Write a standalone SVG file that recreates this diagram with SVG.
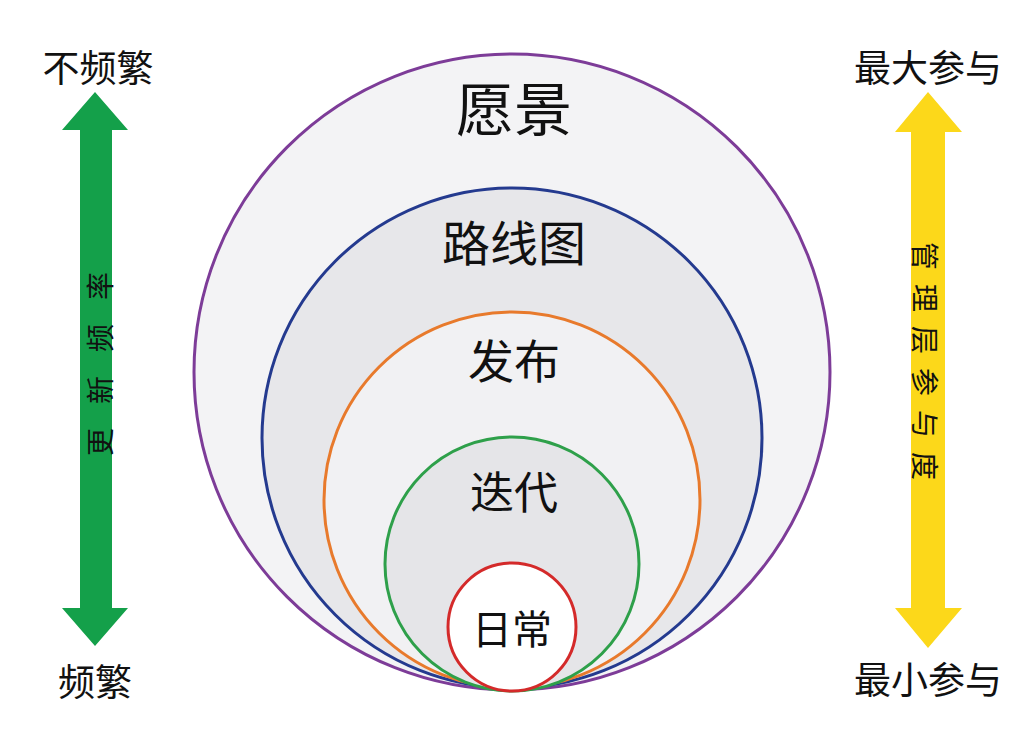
<svg xmlns="http://www.w3.org/2000/svg" width="1024" height="734" viewBox="0 0 1024 734">
<style>
text{font-family:"Noto Sans CJK SC","Noto Sans",sans-serif;fill:#111;text-anchor:middle;dominant-baseline:central}
.c{stroke-width:3}
.k{font-size:37px}
</style>
<rect width="1024" height="734" fill="#fff"/>
<g id="vision"><circle class="c" cx="512" cy="372" r="318" fill="#f3f3f5" stroke="#7d3c98"/><text x="514" y="106" font-size="58">愿景</text></g>
<g id="roadmap"><circle class="c" cx="512" cy="438" r="250" fill="#e7e7ea" stroke="#243a8f"/><text x="514" y="240" font-size="48">路线图</text></g>
<g id="release"><circle class="c" cx="512" cy="500" r="188" fill="#f1f1f3" stroke="#e87a2c"/><text x="514" y="358" font-size="46">发布</text></g>
<g id="iteration"><circle class="c" cx="512" cy="564" r="127" fill="#e5e5e8" stroke="#2ea04a"/><text x="514" y="490" font-size="44">迭代</text></g>
<g id="daily"><circle class="c" cx="512" cy="627" r="64" fill="#fff" stroke="#d42a2a"/><text x="512" y="627" font-size="40">日常</text></g>
<g id="connectors">
<g id="freq"><polygon points="95,92 128,130 112,130 112,608 128,608 95,646 62,608 80,608 80,130 62,130" fill="#14a04a"/>
<text transform="translate(99,352) rotate(-90)" font-size="28" letter-spacing="24">更新频率</text></g>
<g id="mgmt"><polygon points="928,92 962,132 945,132 945,608 962,608 928,648 895,608 911,608 911,132 895,132" fill="#fcd81a"/>
<text transform="translate(926,368) rotate(90)" font-size="28" letter-spacing="14">管理层参与度</text></g>
</g>
<text class="k" x="98" y="66">不频繁</text>
<text class="k" x="95" y="680">频繁</text>
<text class="k" x="928" y="66">最大参与</text>
<text class="k" x="928" y="678">最小参与</text>
</svg>
